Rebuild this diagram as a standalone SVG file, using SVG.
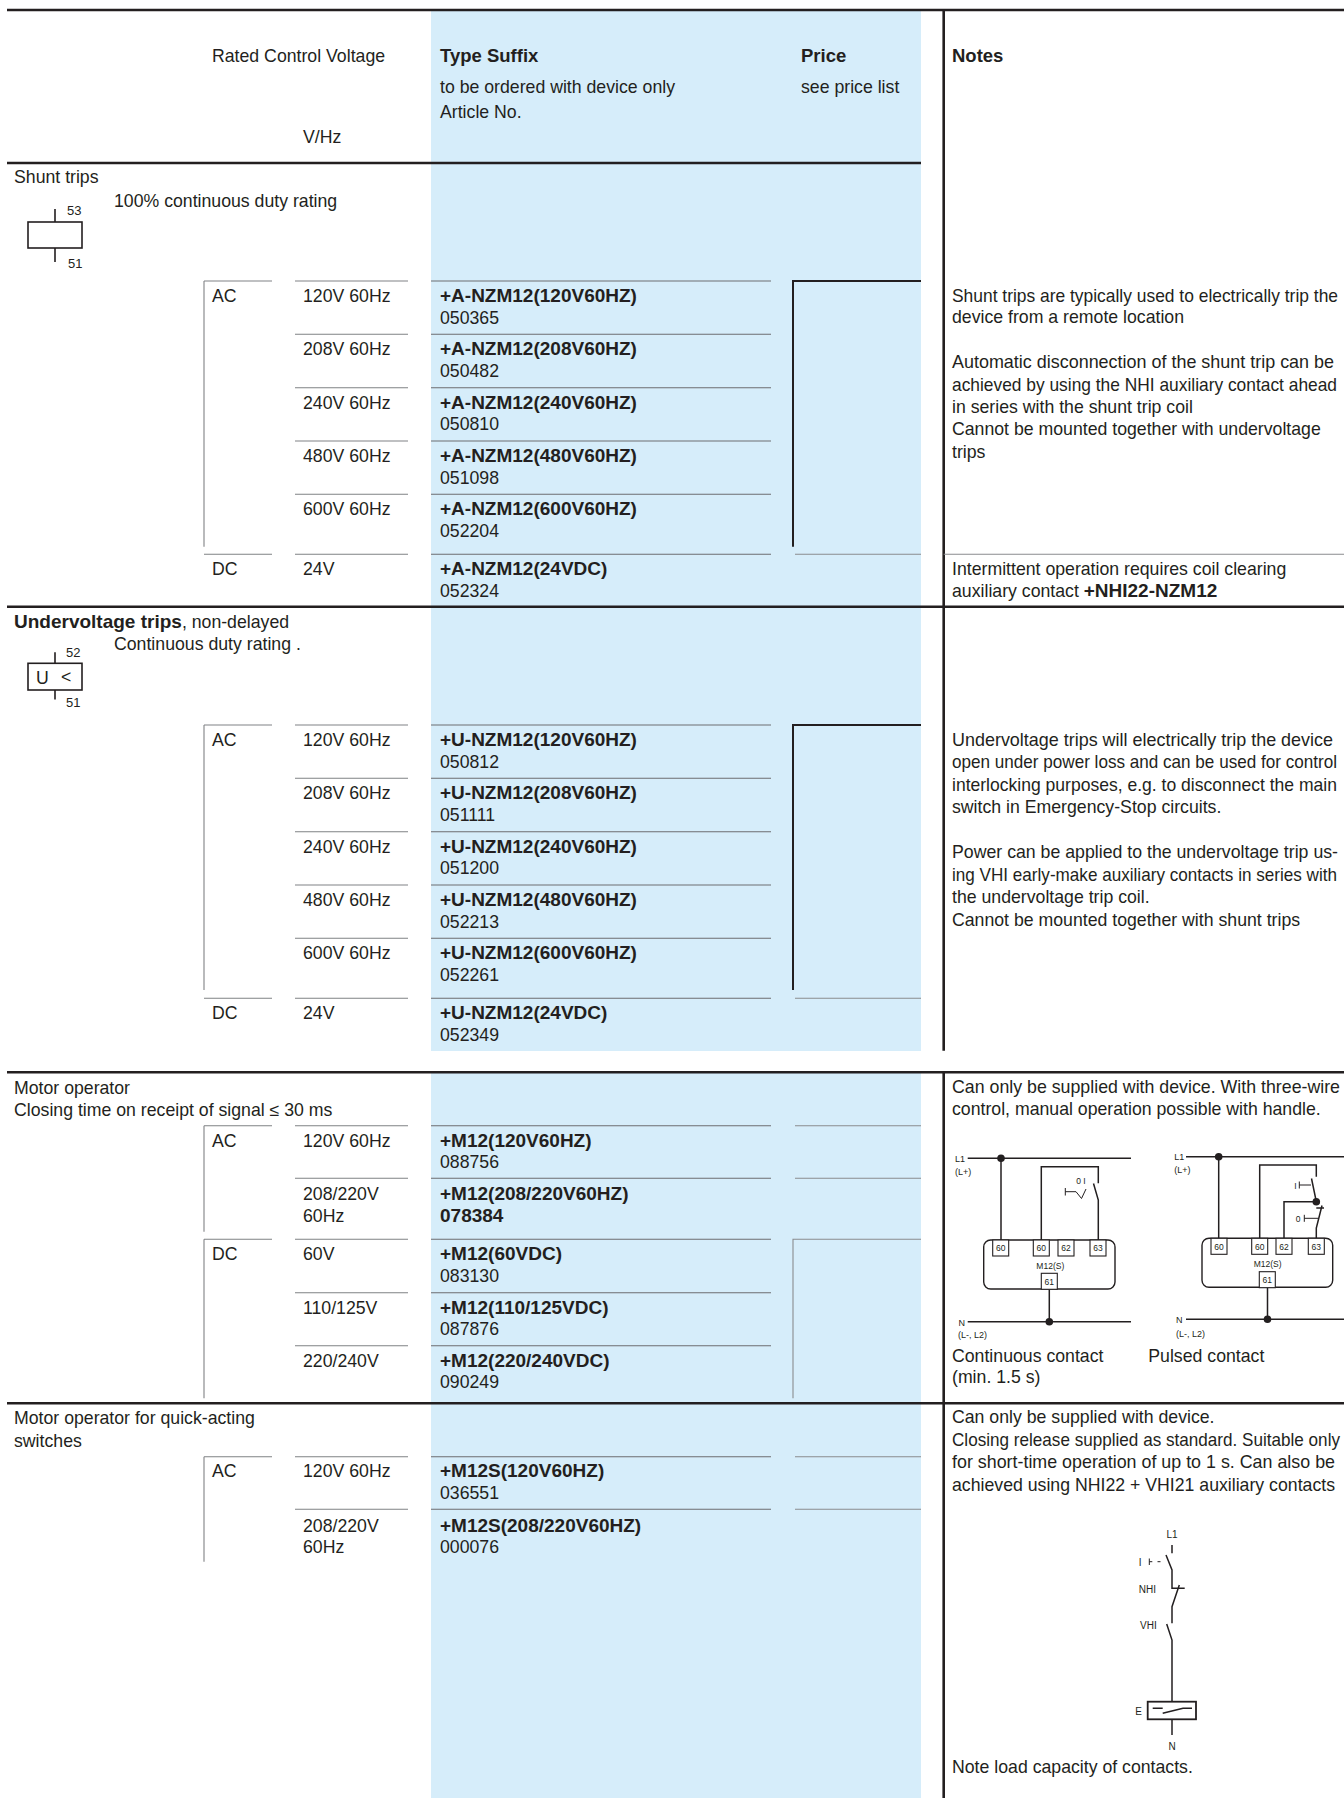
<svg xmlns="http://www.w3.org/2000/svg" width="1344" height="1798" viewBox="0 0 1344 1798">
<style>
text{font-family:"Liberation Sans",Arial,sans-serif;font-size:17.7px;fill:#231f20}
.b{font-weight:bold;font-size:19px}
.h{font-weight:bold;font-size:18.5px}
.s{font-size:13px}
.d{font-size:9px}
.dm{font-size:8.5px;text-anchor:middle}
.dl{font-size:10px}
.thk{stroke:#231f20;stroke-width:2.6;fill:none}
.br{stroke:#231f20;stroke-width:2;fill:none}
.rl{stroke:#6d6e71;stroke-width:1.1;fill:none}
.tl{stroke:#808285;stroke-width:1.1;fill:none}
.pl{stroke:#8a8c8e;stroke-width:1.1;fill:none}
.w{stroke:#231f20;stroke-width:1.5;fill:none}
.w1{stroke:#231f20;stroke-width:1;fill:none}
.box{stroke:#231f20;stroke-width:1.4;fill:#fff}
.tb{stroke:#231f20;stroke-width:1.1;fill:#fff}
.sym{stroke:#231f20;stroke-width:1.6;fill:none}
</style>

<g id="backgrounds">
<rect x="431" y="11" width="490" height="1040" fill="#d6edfa"/>
<rect x="431" y="1073" width="490" height="725" fill="#d6edfa"/>
</g>

<g id="rules">
<path class="thk" d="M7 10H1344M7 163H921M7 606.7H1344M7 1072.3H1344M7 1403.3H1344"/>
<path class="thk" stroke-width="2.5" d="M943.7 10V1050.7M943.7 1072.3V1798"/>
</g>

<g id="header">
<text x="212" y="62">Rated Control Voltage</text>
<text x="303" y="143">V/Hz</text>
<text x="440" y="62" class="h">Type Suffix</text>
<text x="440" y="92.5">to be ordered with device only</text>
<text x="440" y="117.5">Article No.</text>
<text x="801" y="62" class="h">Price</text>
<text x="801" y="92.5">see price list</text>
<text x="952" y="62" class="h">Notes</text>
</g>

<g id="shunt-trips">
<text x="14" y="183">Shunt trips</text>
<text x="114" y="207">100% continuous duty rating</text>
<rect class="sym" x="28" y="222" width="54" height="26"/>
<path class="sym" d="M55 209V222M55 248V262"/>
<text x="67" y="215" class="s">53</text>
<text x="68" y="268" class="s">51</text>
<path class="tl" d="M204 281V546.7M204 281H272M295 281H408M295 334.3H408M295 387.7H408M295 441H408M295 494.3H408M204 554.3H272M295 554.3H408"/>
<path class="rl" d="M431 281H771M431 334.3H771M431 387.7H771M431 441H771M431 494.3H771M431 554.3H771"/>
<path class="br" d="M921 281H793V546.7"/>
<path class="pl" d="M795 554.3H921M943.7 554.3H1344"/>
<text x="212" y="302">AC</text>
<text x="303" y="302">120V 60Hz</text>
<text x="303" y="355.3">208V 60Hz</text>
<text x="303" y="408.7">240V 60Hz</text>
<text x="303" y="462">480V 60Hz</text>
<text x="303" y="515.3">600V 60Hz</text>
<text x="212" y="575.3">DC</text>
<text x="303" y="575.3">24V</text>
<text x="440" y="302" class="b">+A-NZM12(120V60HZ)</text>
<text x="440" y="323.5">050365</text>
<text x="440" y="355.3" class="b">+A-NZM12(208V60HZ)</text>
<text x="440" y="376.8">050482</text>
<text x="440" y="408.7" class="b">+A-NZM12(240V60HZ)</text>
<text x="440" y="430.2">050810</text>
<text x="440" y="462" class="b">+A-NZM12(480V60HZ)</text>
<text x="440" y="483.5">051098</text>
<text x="440" y="515.3" class="b">+A-NZM12(600V60HZ)</text>
<text x="440" y="536.8">052204</text>
<text x="440" y="575.3" class="b">+A-NZM12(24VDC)</text>
<text x="440" y="596.8">052324</text>
<text x="952" y="302" textLength="386" lengthAdjust="spacingAndGlyphs">Shunt trips are typically used to electrically trip the</text>
<text x="952" y="323.3">device from a remote location</text>
<text x="952" y="368.3" textLength="382" lengthAdjust="spacingAndGlyphs">Automatic disconnection of the shunt trip can be</text>
<text x="952" y="390.6" textLength="385" lengthAdjust="spacingAndGlyphs">achieved by using the NHI auxiliary contact ahead</text>
<text x="952" y="412.9">in series with the shunt trip coil</text>
<text x="952" y="435.2">Cannot be mounted together with undervoltage</text>
<text x="952" y="457.5">trips</text>
<text x="952" y="575.3">Intermittent operation requires coil clearing</text>
<text x="952" y="596.8">auxiliary contact <tspan class="b">+NHI22-NZM12</tspan></text>
</g>

<g id="undervoltage-trips">
<text x="14" y="628.3"><tspan class="b">Undervoltage trips</tspan>, non-delayed</text>
<text x="114" y="650">Continuous duty rating .</text>
<rect class="sym" x="28" y="663.3" width="54" height="26.7"/>
<path class="sym" d="M55 652.3V663.3M55 690V699.5"/>
<text x="36" y="684" font-size="17px">U</text>
<text x="61" y="683" font-size="14px">&lt;</text>
<text x="66" y="656.5" class="s">52</text>
<text x="66" y="706.5" class="s">51</text>
<path class="tl" d="M204 725V990M204 725H272M295 725H408M295 778.3H408M295 831.7H408M295 885H408M295 938.3H408M204 998.3H272M295 998.3H408"/>
<path class="rl" d="M431 725H771M431 778.3H771M431 831.7H771M431 885H771M431 938.3H771M431 998.3H771"/>
<path class="br" d="M921 725H793V990"/>
<path class="pl" d="M795 998.3H921"/>
<text x="212" y="746">AC</text>
<text x="303" y="746">120V 60Hz</text>
<text x="303" y="799.3">208V 60Hz</text>
<text x="303" y="852.7">240V 60Hz</text>
<text x="303" y="906">480V 60Hz</text>
<text x="303" y="959.3">600V 60Hz</text>
<text x="212" y="1019.3">DC</text>
<text x="303" y="1019.3">24V</text>
<text x="440" y="746" class="b">+U-NZM12(120V60HZ)</text>
<text x="440" y="767.5">050812</text>
<text x="440" y="799.3" class="b">+U-NZM12(208V60HZ)</text>
<text x="440" y="820.8">051111</text>
<text x="440" y="852.7" class="b">+U-NZM12(240V60HZ)</text>
<text x="440" y="874.2">051200</text>
<text x="440" y="906" class="b">+U-NZM12(480V60HZ)</text>
<text x="440" y="927.5">052213</text>
<text x="440" y="959.3" class="b">+U-NZM12(600V60HZ)</text>
<text x="440" y="980.8">052261</text>
<text x="440" y="1019.3" class="b">+U-NZM12(24VDC)</text>
<text x="440" y="1040.8">052349</text>
<text x="952" y="746" textLength="381" lengthAdjust="spacingAndGlyphs">Undervoltage trips will electrically trip the device</text>
<text x="952" y="768.3" textLength="385" lengthAdjust="spacingAndGlyphs">open under power loss and can be used for control</text>
<text x="952" y="790.6" textLength="385" lengthAdjust="spacingAndGlyphs">interlocking purposes, e.g. to disconnect the main</text>
<text x="952" y="812.9">switch in Emergency-Stop circuits.</text>
<text x="952" y="858.3" textLength="386" lengthAdjust="spacingAndGlyphs">Power can be applied to the undervoltage trip us-</text>
<text x="952" y="880.6" textLength="385" lengthAdjust="spacingAndGlyphs">ing VHI early-make auxiliary contacts in series with</text>
<text x="952" y="902.9">the undervoltage trip coil.</text>
<text x="952" y="925.7">Cannot be mounted together with shunt trips</text>
</g>

<g id="motor-operator">
<text x="14" y="1094.3">Motor operator</text>
<text x="14" y="1116">Closing time on receipt of signal ≤ 30 ms</text>
<path class="tl" d="M204 1125.7V1231.7M204 1125.7H272M295 1125.7H408M295 1178.3H408M204 1239.3H272M204 1239.3V1398.3M295 1239.3H408M295 1292.7H408M295 1345.7H408"/>
<path class="rl" d="M431 1125.7H771M431 1178.3H771M431 1239.3H771M431 1292.7H771M431 1345.7H771"/>
<path class="pl" d="M795 1125.7H921M795 1178.3H921M921 1239.3H793V1398.3"/>
<text x="212" y="1146.7">AC</text>
<text x="303" y="1146.7">120V 60Hz</text>
<text x="303" y="1199.5">208/220V</text>
<text x="303" y="1221.5">60Hz</text>
<text x="212" y="1260.3">DC</text>
<text x="303" y="1260.3">60V</text>
<text x="303" y="1313.5">110/125V</text>
<text x="303" y="1366.5">220/240V</text>
<text x="440" y="1146.7" class="b">+M12(120V60HZ)</text>
<text x="440" y="1168.3">088756</text>
<text x="440" y="1199.5" class="b">+M12(208/220V60HZ)</text>
<text x="440" y="1221.5" class="b">078384</text>
<text x="440" y="1260.3" class="b">+M12(60VDC)</text>
<text x="440" y="1281.8">083130</text>
<text x="440" y="1313.5" class="b">+M12(110/125VDC)</text>
<text x="440" y="1335">087876</text>
<text x="440" y="1366.5" class="b">+M12(220/240VDC)</text>
<text x="440" y="1388.3">090249</text>
<text x="952" y="1093.3" textLength="388" lengthAdjust="spacingAndGlyphs">Can only be supplied with device. With three-wire</text>
<text x="952" y="1115">control, manual operation possible with handle.</text>
<text x="952" y="1361.7">Continuous contact</text>
<text x="952" y="1383.3">(min. 1.5 s)</text>
<text x="1148.3" y="1361.7">Pulsed contact</text>
</g>

<g id="diagram-continuous-contact">
<path class="w" d="M967.7 1158.3H1131M1001 1158.3V1240M1041.3 1240V1166.7H1098.3V1183.3M1093.5 1183.5L1098.3 1200V1240M1049.3 1289.3V1321.7M967.7 1321.7H1131"/>
<path class="w1" d="M1065.3 1188V1195.5M1065.3 1191.7H1076L1081.5 1198.5L1086 1189"/>
<circle cx="1001" cy="1158.3" r="3.8" fill="#231f20"/>
<circle cx="1049.3" cy="1321.7" r="3.8" fill="#231f20"/>
<rect class="box" x="983.7" y="1240" width="131.3" height="49" rx="7"/>
<rect class="tb" x="992.7" y="1240" width="16" height="16"/>
<rect class="tb" x="1033.3" y="1240" width="16" height="16"/>
<rect class="tb" x="1058" y="1240" width="16" height="16"/>
<rect class="tb" x="1090" y="1240" width="16" height="16"/>
<rect class="tb" x="1041.3" y="1273.3" width="16" height="16"/>
<text class="dm" x="1000.7" y="1251.3">60</text>
<text class="dm" x="1041.3" y="1251.3">60</text>
<text class="dm" x="1066" y="1251.3">62</text>
<text class="dm" x="1098" y="1251.3">63</text>
<text class="dm" x="1049.3" y="1284.6">61</text>
<text class="dm" x="1050.3" y="1269">M12(S)</text>
<text class="dm" x="1081" y="1183.5">0 I</text>
<text class="d" x="955" y="1161.7">L1</text>
<text class="d" x="955" y="1175">(L+)</text>
<text class="d" x="958.5" y="1325.7">N</text>
<text class="d" x="958" y="1338.3">(L-, L2)</text>
</g>

<g id="diagram-pulsed-contact">
<path class="w" d="M1186 1156.7H1344M1218.7 1156.7V1238.3M1259.7 1238.3V1165H1316.3V1176.7M1311.5 1178.5L1316.3 1201.7V1205M1316.3 1208H1324M1322 1205.5L1316.3 1228V1238.3M1284 1238.3V1201.7H1316.3M1267.5 1287.7V1319.3M1186 1319.3H1344"/>
<path class="w1" d="M1299.3 1181.5V1188.5M1299.3 1185H1311M1304.3 1214.8V1221.8M1304.3 1218.3H1318"/>
<circle cx="1218.7" cy="1156.7" r="3.8" fill="#231f20"/>
<circle cx="1316.3" cy="1201.7" r="3.8" fill="#231f20"/>
<circle cx="1267.5" cy="1319.3" r="3.8" fill="#231f20"/>
<rect class="box" x="1202" y="1238.3" width="130.7" height="49" rx="7"/>
<rect class="tb" x="1211" y="1238.3" width="16" height="16"/>
<rect class="tb" x="1251.7" y="1238.3" width="16" height="16"/>
<rect class="tb" x="1276" y="1238.3" width="16" height="16"/>
<rect class="tb" x="1308.3" y="1238.3" width="16" height="16"/>
<rect class="tb" x="1259.3" y="1271.7" width="16" height="16"/>
<text class="dm" x="1219" y="1249.6">60</text>
<text class="dm" x="1259.7" y="1249.6">60</text>
<text class="dm" x="1284" y="1249.6">62</text>
<text class="dm" x="1316.3" y="1249.6">63</text>
<text class="dm" x="1267.3" y="1283">61</text>
<text class="dm" x="1267.7" y="1266.7">M12(S)</text>
<text class="dm" x="1295.5" y="1188.5">I</text>
<text class="dm" x="1298" y="1221.5">0</text>
<text class="d" x="1174.3" y="1160">L1</text>
<text class="d" x="1174.3" y="1173.3">(L+)</text>
<text class="d" x="1176" y="1322.7">N</text>
<text class="d" x="1176" y="1336.7">(L-, L2)</text>
</g>

<g id="motor-operator-quick-acting">
<text x="14" y="1424">Motor operator for quick-acting</text>
<text x="14" y="1446.7">switches</text>
<path class="tl" d="M204 1456.7V1561.7M204 1456.7H272M295 1456.7H408M295 1509.3H408"/>
<path class="rl" d="M431 1456.7H771M431 1509.3H771"/>
<path class="pl" d="M795 1456.7H921M795 1509.3H921"/>
<text x="212" y="1477">AC</text>
<text x="303" y="1477">120V 60Hz</text>
<text x="303" y="1531.7">208/220V</text>
<text x="303" y="1553.3">60Hz</text>
<text x="440" y="1477" class="b">+M12S(120V60HZ)</text>
<text x="440" y="1499.3">036551</text>
<text x="440" y="1531.7" class="b">+M12S(208/220V60HZ)</text>
<text x="440" y="1553.3">000076</text>
<text x="952" y="1423.3">Can only be supplied with device.</text>
<text x="952" y="1446" textLength="388" lengthAdjust="spacingAndGlyphs">Closing release supplied as standard. Suitable only</text>
<text x="952" y="1468.3" textLength="383" lengthAdjust="spacingAndGlyphs">for short-time operation of up to 1 s. Can also be</text>
<text x="952" y="1490.6" textLength="383" lengthAdjust="spacingAndGlyphs">achieved using NHI22 + VHI21 auxiliary contacts</text>
<text x="952" y="1773.3">Note load capacity of contacts.</text>
</g>

<g id="diagram-closing-release">
<path class="w" stroke-width="1.8" d="M1172 1545V1553.3M1166 1555L1172 1570V1588.3H1184.7M1179.3 1585L1172 1606.7V1623.3M1166.7 1624L1172 1640V1701.7M1172 1719.3V1735"/>
<path class="w1" d="M1149.3 1558.5V1565M1149.3 1561.7H1152.3M1157.5 1561.7H1160.5"/>
<rect x="1147.7" y="1701.7" width="48.3" height="17.6" fill="none" stroke="#231f20" stroke-width="1.8"/>
<path class="w" d="M1152.7 1708.3H1162.7M1162.7 1713.3L1183 1708.3H1192"/>
<text class="dl" x="1172" y="1538.3" text-anchor="middle">L1</text>
<text class="dl" x="1138.7" y="1566">I</text>
<text class="dl" x="1138.7" y="1593">NHI</text>
<text class="dl" x="1140" y="1628.5">VHI</text>
<text class="dl" x="1135.3" y="1715">E</text>
<text class="dl" x="1172" y="1750" text-anchor="middle">N</text>
</g>
</svg>
